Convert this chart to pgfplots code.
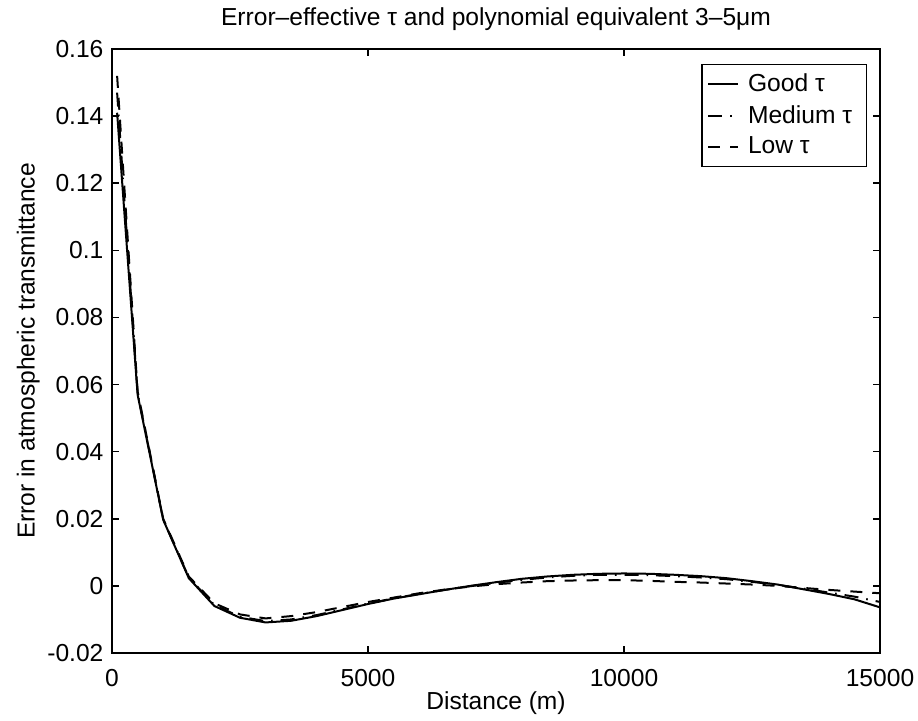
\documentclass[border=0pt]{standalone}
\usepackage{fontspec}
\setmainfont{Liberation Sans}
\usepackage{pgfplots}
\usepackage{pgfplotstable}
\pgfplotsset{compat=1.18}

\pgfplotstableread{
x good
100 0.141
500 0.057
1000 0.0197
1500 0.0023
2000 -0.0060
2500 -0.0095
3000 -0.0109
3500 -0.0104
4000 -0.0090
4500 -0.0072
5000 -0.0054
5500 -0.0038
6000 -0.0025
6500 -0.0012
7000 0.0000
7500 0.0011
8000 0.0021
8500 0.0028
9000 0.0033
9500 0.0036
10000 0.0037
10500 0.0036
11000 0.0033
11500 0.0029
12000 0.0023
12500 0.0014
13000 0.0004
13500 -0.0010
14000 -0.0024
14500 -0.0040
15000 -0.0064
}\goodtab

\pgfplotstableread{
x medium
100 0.147
500 0.0575
1000 0.0198
1500 0.0025
2000 -0.0057
2500 -0.0092
3000 -0.0105
3500 -0.0100
4000 -0.0087
4500 -0.0070
5000 -0.0053
5500 -0.0037
6000 -0.0024
6500 -0.0012
7000 -0.0001
7500 0.0009
8000 0.0018
8500 0.0025
9000 0.0030
9500 0.0033
10000 0.0033
10500 0.0032
11000 0.0029
11500 0.0025
12000 0.0020
12500 0.0012
13000 0.0003
13500 -0.0008
14000 -0.0020
14500 -0.0032
15000 -0.0048
}\mediumtab

\pgfplotstableread{
x low
100 0.152
500 0.058
1000 0.0200
1500 0.0028
2000 -0.0052
2500 -0.0085
3000 -0.0097
3500 -0.0090
4000 -0.0078
4500 -0.0063
5000 -0.0048
5500 -0.0035
6000 -0.0022
6500 -0.0011
7000 -0.0002
7500 0.0005
8000 0.0010
8500 0.0014
9000 0.0016
9500 0.0017
10000 0.0017
10500 0.0015
11000 0.0012
11500 0.0010
12000 0.0007
12500 0.0004
13000 0.0000
13500 -0.0006
14000 -0.0012
14500 -0.0017
15000 -0.0022
}\lowtab

\begin{document}
\fontsize{12.3}{14.8}\selectfont
\begin{tikzpicture}
\useasboundingbox (-56pt,-34pt) rectangle (403pt,326.5pt);
\begin{axis}[
  at={(0,0)}, anchor=south west,
  scale only axis, width=384pt, height=302pt,
  xmin=0, xmax=15000, ymin=-0.02, ymax=0.16,
  xtick={0,5000,10000,15000},
  ytick={-0.02,0,0.02,0.04,0.06,0.08,0.1,0.12,0.14,0.16},
  scaled x ticks=false, scaled y ticks=false,
  /pgf/number format/assume math mode=true,
  xticklabel style={/pgf/number format/set thousands separator={}, yshift=-4pt},
  yticklabel style={/pgf/number format/fixed, /pgf/number format/precision=2},
  tick align=inside, tick pos=both,
  major tick length=3.5pt,
  axis line style={line width=0.8pt},
  every tick/.style={line width=0.8pt, black},
  title={Error–effective τ and polynomial equivalent 3–5μm},
  title style={at={(axis description cs:0.5,1.0295)}, anchor=center},
  xlabel={Distance (m)},
  xlabel style={at={(axis description cs:0.5,-0.083)}, anchor=center},
  ylabel={Error in atmospheric transmittance},
  ylabel style={at={(axis description cs:-0.109,0.5)}, anchor=center},
  legend style={at={(axis description cs:0.9827,0.975)}, anchor=north east,
    draw=black, line width=0.6pt, inner xsep=2.5pt, inner ysep=2.5pt, row sep=1pt,
    nodes={inner xsep=4.5pt}},
  legend cell align=left,
  legend image code/.code={\draw[#1] (0pt,0pt) -- (15pt,0pt);},
]
\addplot[black, line width=1pt] table[x=x,y=good] {\goodtab};
\addlegendentry{Good τ}
\addplot[black, line width=1pt, dash pattern=on 7pt off 4pt on 0.8pt off 4pt] table[x=x,y=medium] {\mediumtab};
\addlegendentry{Medium τ}
\addplot[black, line width=1pt, dash pattern=on 6pt off 5pt] table[x=x,y=low] {\lowtab};
\addlegendentry{Low τ}
\end{axis}
\end{tikzpicture}
\end{document}
